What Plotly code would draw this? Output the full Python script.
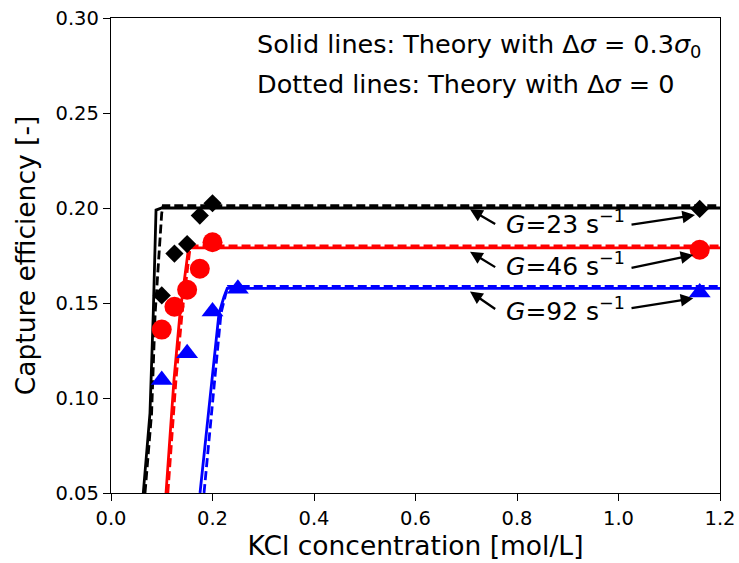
import plotly.graph_objects as go

# ---------------- data ----------------
# experimental points: KCl concentration [mol/L] and capture efficiency [-]
x_g23 = [0.10, 0.125, 0.15, 0.175, 0.20, 1.16]
y_g23 = [0.154, 0.176, 0.181, 0.196, 0.2025, 0.1995]
x_g46 = [0.10, 0.125, 0.15, 0.175, 0.20, 1.16]
y_g46 = [0.136, 0.148, 0.157, 0.168, 0.182, 0.178]
x_g92 = [0.10, 0.15, 0.20, 0.25, 1.16]
y_g92 = [0.1095, 0.1235, 0.1455, 0.1575, 0.1555]

# theory, solid (delta sigma = 0.3 sigma0)
xs_g23 = [0.0636, 0.0768, 0.0833, 0.0887, 0.0999, 1.2]
ys_g23 = [0.05, 0.0921, 0.1446, 0.1989, 0.2000, 0.2000]
xs_g46 = [0.1084, 0.1241, 0.1360, 0.1523, 0.1545, 1.2]
ys_g46 = [0.05, 0.1095, 0.1446, 0.1779, 0.1790, 0.1790]
xs_g92 = [0.1754, 0.1996, 0.2128, 0.2227, 0.2290, 1.2]
ys_g92 = [0.05, 0.1095, 0.1446, 0.1533, 0.1577, 0.1577]

# theory, dotted (delta sigma = 0)
xd_g23 = [0.0670, 0.0800, 0.0870, 0.0999, 0.1030, 1.2]
yd_g23 = [0.05, 0.0920, 0.1446, 0.1972, 0.2012, 0.2012]
xd_g46 = [0.1120, 0.1280, 0.1400, 0.1560, 0.1580, 1.2]
yd_g46 = [0.05, 0.1095, 0.1446, 0.1795, 0.1801, 0.1801]
xd_g92 = [0.1833, 0.2049, 0.2167, 0.2280, 0.2310, 1.2]
yd_g92 = [0.05, 0.1095, 0.1446, 0.1568, 0.1588, 0.1588]

x_ticks = [0.0, 0.2, 0.4, 0.6, 0.8, 1.0, 1.2]
y_ticks = [0.05, 0.10, 0.15, 0.20, 0.25, 0.30]

g_labels = ["<i>G</i>=23 s<sup>\u22121</sup>",
            "<i>G</i>=46 s<sup>\u22121</sup>",
            "<i>G</i>=92 s<sup>\u22121</sup>"]
label_x = [0.8946, 0.8946, 0.8946]
label_y = [0.1925, 0.1703, 0.1466]
# arrows: (tail x, tail y, head x, head y)
arrows = [(0.760, 0.1911, 0.7074, 0.1993),
          (0.760, 0.1684, 0.7074, 0.1770),
          (0.760, 0.1463, 0.7074, 0.1560),
          (1.0227, 0.1911, 1.1507, 0.1963),
          (1.0227, 0.1683, 1.1474, 0.1753),
          (1.0227, 0.1472, 1.1474, 0.1525)]

colors = ["black", "#ff0000", "#0000ff"]
FONT = "DejaVu Sans"

fig = go.Figure()

solid = [(xs_g23, ys_g23), (xs_g46, ys_g46), (xs_g92, ys_g92)]
dashed = [(xd_g23, yd_g23), (xd_g46, yd_g46), (xd_g92, yd_g92)]
for (xs, ys), c in zip(solid, colors):
    fig.add_trace(go.Scatter(x=xs, y=ys, mode="lines",
                             line=dict(color=c, width=2.8), showlegend=False))
for (xd, yd), c in zip(dashed, colors):
    fig.add_trace(go.Scatter(x=xd, y=yd, mode="lines",
                             line=dict(color=c, width=2.8, dash="9px,4px"),
                             showlegend=False))

pts = [(x_g23, y_g23, "diamond", 14), (x_g46, y_g46, "circle", 20),
       (x_g92, y_g92, "triangle-up", 19)]
for (xp, yp, sym, sz), c in zip(pts, colors):
    fig.add_trace(go.Scatter(x=xp, y=yp, mode="markers",
                             marker=dict(symbol=sym, size=sz, color=c,
                                         line=dict(width=0)),
                             showlegend=False))

annotations = []
for tx, ty, hx, hy in arrows:
    annotations.append(dict(x=hx, y=hy, ax=tx, ay=ty, xref="x", yref="y",
                            axref="x", ayref="y", text="", showarrow=True,
                            arrowhead=2, arrowsize=1.1, arrowwidth=2.3,
                            arrowcolor="black"))

for t, lx, ly in zip(g_labels, label_x, label_y):
    annotations.append(dict(x=lx, y=ly, xref="x", yref="y", text=t,
                            showarrow=False, xanchor="center", yanchor="middle",
                            font=dict(family=FONT, size=25, color="black")))

annotations.append(dict(x=0.2837, y=0.2855, xref="x", yref="y",
                        text="Solid lines: Theory with \u0394<i>\u03c3</i> = 0.3<i>\u03c3</i><sub>0</sub>",
                        showarrow=False, xanchor="left", yanchor="middle",
                        font=dict(family=FONT, size=25.5, color="black")))
annotations.append(dict(x=0.2837, y=0.2652, xref="x", yref="y",
                        text="Dotted lines: Theory with \u0394<i>\u03c3</i> = 0",
                        showarrow=False, xanchor="left", yanchor="middle",
                        font=dict(family=FONT, size=25.5, color="black")))

axis_common = dict(showline=True, mirror=True, linecolor="black", linewidth=1.4,
                   ticks="outside", ticklen=7, tickwidth=1.4, tickcolor="black",
                   showgrid=False, zeroline=False, automargin=False,
                   tickfont=dict(family=FONT, size=19.5, color="black"))

fig.update_layout(
    width=739, height=563,
    margin=dict(l=111, r=19, t=18, b=70),
    plot_bgcolor="white", paper_bgcolor="white",
    font=dict(family=FONT, color="black"),
    xaxis=dict(range=[0.0, 1.2], tickvals=x_ticks,
               ticktext=[f"{v:.1f}" for v in x_ticks],
               title=dict(text="KCl concentration [mol/L]",
                          font=dict(family=FONT, size=26.5), standoff=6),
               **axis_common),
    yaxis=dict(range=[0.05, 0.30], tickvals=y_ticks,
               ticktext=[f"{v:.2f}" for v in y_ticks],
               title=dict(text="Capture efficiency [-]",
                          font=dict(family=FONT, size=26.5), standoff=12),
               **axis_common),
    annotations=annotations,
)

fig.write_html("out.html")
